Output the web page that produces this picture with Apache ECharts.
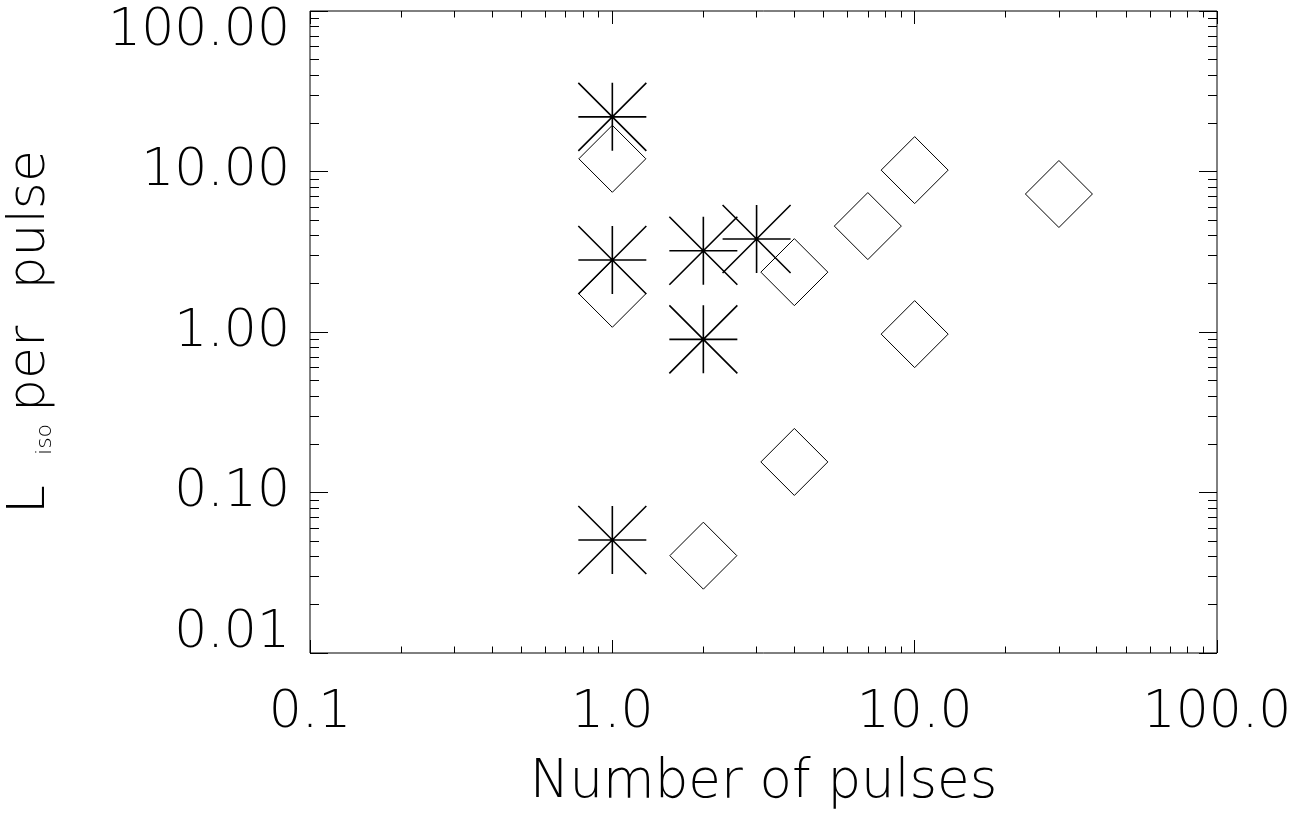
<!DOCTYPE html>
<html>
<head>
<meta charset="utf-8">
<script src="https://cdn.jsdelivr.net/npm/echarts@6/dist/echarts.min.js"></script>
<style>
  html, body { margin: 0; padding: 0; background: #fff; }
  #chart { width: 1316px; height: 819px; }
</style>
</head>
<body>
<div id="chart"></div>
<script>
// Pulse counts and isotropic luminosity per pulse
const starPoints = [
  [1, 21.9], [1, 2.81], [1, 0.0506],
  [2, 3.21], [2, 0.90], [3, 3.80]
];
const diamondPoints = [
  [1, 12.0], [1, 1.73], [2, 0.0404],
  [4, 2.36], [4, 0.155], [7, 4.57],
  [10, 10.2], [10, 0.97], [30, 7.24]
];

// Axis ticks and their labels
const xMajorTicks = [0.1, 1, 10, 100];
const xTickLabels = ['0.1', '1.0', '10.0', '100.0'];
const yMajorTicks = [0.01, 0.1, 1, 10, 100];
const yTickLabels = ['0.01', '0.10', '1.00', '10.00', '100.00'];
const xMinorTicks = [];
[0.1, 1, 10].forEach(d => { for (let k = 2; k <= 9; k++) xMinorTicks.push(+(d * k).toPrecision(3)); });
const yMinorTicks = [];
[0.01, 0.1, 1, 10].forEach(d => { for (let k = 2; k <= 9; k++) yMinorTicks.push(+(d * k).toPrecision(3)); });

const FONT = '"DejaVu Sans ExtraLight", "DejaVu Sans"';
const W = 200;

function pickLabel(values, labels, v) {
  let best = 0, bestD = Infinity;
  for (let i = 0; i < values.length; i++) {
    const d = Math.abs(Math.log10(values[i]) - Math.log10(v));
    if (d < bestD) { bestD = d; best = i; }
  }
  return labels[best];
}

const lineStyle = { color: '#000', width: 1 };
const gridRect = { left: 310, top: 11, right: 99, bottom: 166, outerBoundsMode: 'none', containLabel: false };

function xAxisDef(grid, position, ticks, len, opts) {
  return Object.assign({
    type: 'log', logBase: 10, min: 0.1, max: 100, gridIndex: grid, position: position,
    axisLine: { show: false },
    axisTick: { show: true, inside: true, length: len, customValues: ticks, lineStyle: lineStyle },
    axisLabel: { show: false },
    splitLine: { show: false }, minorTick: { show: false }
  }, opts || {});
}
function yAxisDef(grid, position, ticks, len, opts) {
  return Object.assign({
    type: 'log', logBase: 10, min: 0.01, max: 100, gridIndex: grid, position: position,
    axisLine: { show: false },
    axisTick: { show: true, inside: true, length: len, customValues: ticks, lineStyle: lineStyle },
    axisLabel: { show: false },
    splitLine: { show: false }, minorTick: { show: false }
  }, opts || {});
}

const chart = echarts.init(document.getElementById('chart'), null, { renderer: 'canvas' });

chart.setOption({
  backgroundColor: '#fff',
  animation: false,
  grid: [
    Object.assign({ show: true, borderColor: '#000', borderWidth: 1, backgroundColor: 'transparent' }, gridRect),
    Object.assign({ show: false }, gridRect)
  ],
  xAxis: [
    xAxisDef(0, 'bottom', xMajorTicks, 13, {
      name: 'Number of pulses',
      nameLocation: 'middle',
      nameGap: 104,
      nameMoveOverlap: false,
      nameTextStyle: { fontFamily: FONT, fontWeight: W, fontSize: 53, color: '#000', lineHeight: 52 },
      axisLabel: {
        show: true, margin: 34, customValues: xMajorTicks,
        fontFamily: FONT, fontWeight: W, fontSize: 52, color: '#000', lineHeight: 52,
        formatter: v => pickLabel(xMajorTicks, xTickLabels, v)
      }
    }),
    xAxisDef(0, 'top', xMajorTicks, 13),
    xAxisDef(1, 'bottom', xMinorTicks, 6.5),
    xAxisDef(1, 'top', xMinorTicks, 6.5)
  ],
  yAxis: [
    yAxisDef(0, 'left', yMajorTicks, 18, {
      name: '{L|L}{s|iso}{t|per}{u|pulse}',
      nameLocation: 'middle',
      nameRotate: 90,
      nameGap: 254,
      nameMoveOverlap: false,
      nameTextStyle: {
        fontFamily: FONT, fontWeight: W, fontSize: 52, color: '#000',
        rich: {
          L: { fontFamily: FONT, fontWeight: W, fontSize: 52, lineHeight: 52, color: '#000', verticalAlign: 'bottom' },
          s: { fontFamily: FONT, fontWeight: W, fontSize: 22, lineHeight: 22, color: '#000', verticalAlign: 'bottom', padding: [0, 12, 0, 30] },
          t: { fontFamily: FONT, fontWeight: W, fontSize: 52, lineHeight: 52, color: '#000', verticalAlign: 'bottom', padding: [0, 36, 0, 0] },
          u: { fontFamily: FONT, fontWeight: W, fontSize: 52, lineHeight: 52, color: '#000', verticalAlign: 'bottom' }
        }
      },
      axisLabel: {
        show: true, margin: 20, customValues: yMajorTicks,
        fontFamily: FONT, fontWeight: W, fontSize: 52, color: '#000', lineHeight: 40,
        verticalAlignMinLabel: 'bottom', verticalAlignMaxLabel: 'top',
        formatter: v => pickLabel(yMajorTicks, yTickLabels, v)
      }
    }),
    yAxisDef(0, 'right', yMajorTicks, 18),
    yAxisDef(1, 'left', yMinorTicks, 9),
    yAxisDef(1, 'right', yMinorTicks, 9)
  ],
  series: [
    {
      name: 'stars', type: 'scatter', xAxisIndex: 0, yAxisIndex: 0,
      data: starPoints,
      symbol: 'path://M0,1 L2,1 M1,0 L1,2 M0,0 L2,2 M2,0 L0,2',
      symbolSize: 68,
      itemStyle: { color: 'none', borderColor: '#000', borderWidth: 1.6, opacity: 1 },
      emphasis: { disabled: true }
    },
    {
      name: 'diamonds', type: 'scatter', xAxisIndex: 0, yAxisIndex: 0,
      data: diamondPoints,
      symbol: 'path://M1,0 L2,1 L1,2 L0,1 Z',
      symbolSize: 67,
      itemStyle: { color: 'none', borderColor: '#000', borderWidth: 1, opacity: 1 },
      emphasis: { disabled: true }
    }
  ]
});
</script>
</body>
</html>
